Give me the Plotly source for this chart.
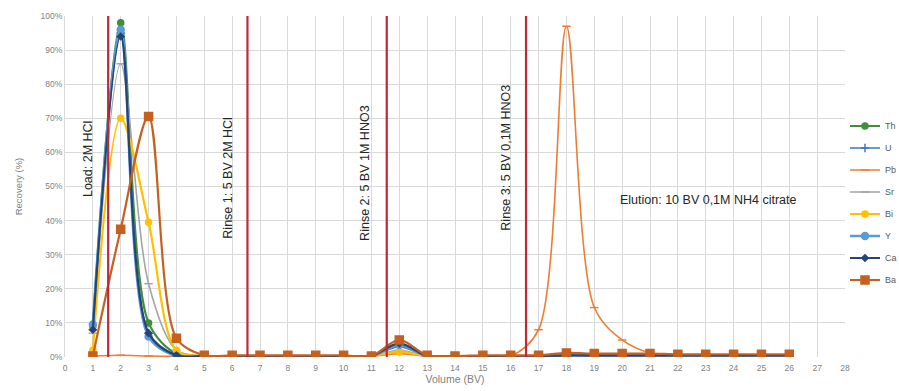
import plotly.graph_objects as go

# Bed volumes collected (BV)
volume = list(range(1, 27))

# Recovery per fraction (%), per element
th = [9, 98, 10, 1, 0.3, 0.3, 0.3, 0.3, 0.3, 0.3, 0.3, 4, 0.3, 0.3, 0.3, 0.3, 0.3, 0.5, 0.5, 0.5, 0.5, 0.5, 0.5, 0.5, 0.5, 0.5]
u = [8, 95, 7, 0.5, 0.3, 0.3, 0.3, 0.3, 0.3, 0.3, 0.3, 3, 0.3, 0.3, 0.3, 0.3, 0.3, 0.3, 0.3, 0.3, 0.3, 0.3, 0.3, 0.3, 0.3, 0.3]
pb = [0.3, 0.5, 0.3, 0.2, 0.2, 0.2, 0.2, 0.2, 0.2, 0.2, 0.2, 1, 0.2, 0.2, 0.2, 0.3, 8, 97, 14.5, 5, 1.2, 0.5, 0.3, 0.3, 0.3, 0.3]
sr = [7, 86, 21.5, 2, 0.3, 0.3, 0.3, 0.3, 0.3, 0.3, 0.3, 2, 0.3, 0.3, 0.3, 0.3, 0.3, 0.5, 0.5, 0.5, 0.5, 0.5, 0.5, 0.5, 0.5, 0.5]
bi = [2, 70, 39.5, 2, 0.3, 0.3, 0.3, 0.3, 0.3, 0.3, 0.3, 1.5, 0.3, 0.3, 0.3, 0.3, 0.3, 0.3, 0.3, 0.3, 0.3, 0.3, 0.3, 0.3, 0.3, 0.3]
y_el = [9.5, 96, 6, 0.3, 0.2, 0.2, 0.2, 0.2, 0.2, 0.2, 0.2, 3.5, 0.2, 0.2, 0.2, 0.2, 0.2, 0.2, 0.2, 0.2, 0.2, 0.2, 0.2, 0.2, 0.2, 0.2]
ca = [8, 94, 7, 0.5, 0.3, 0.3, 0.3, 0.3, 0.3, 0.3, 0.3, 4, 0.3, 0.3, 0.3, 0.3, 0.3, 0.5, 0.5, 0.5, 0.5, 0.5, 0.5, 0.5, 0.5, 0.5]
ba = [0.3, 37.5, 70.5, 5.5, 0.5, 0.5, 0.5, 0.5, 0.5, 0.5, 0.3, 5, 0.5, 0.3, 0.5, 0.5, 0.5, 1.2, 1, 1, 1, 0.8, 0.8, 0.8, 0.8, 0.8]

# Step boundaries (BV) and their labels
boundaries = [1.55, 6.55, 11.55, 16.55]
step_labels = ["Load: 2M HCl", "Rinse 1: 5 BV 2M HCl", "Rinse 2: 5 BV 1M HNO3", "Rinse 3: 5 BV 0,1M HNO3"]
step_label_x = [0.82, 5.84, 10.77, 15.8]
step_label_y = [0.58, 0.525, 0.54, 0.585]
elution_label = "Elution: 10 BV 0,1M NH4 citrate"

x_ticks = list(range(0, 29))
y_ticks = [i / 10 for i in range(0, 11)]

series = [
    ("Th", th, "#3f8f3a", "circle", 6, 2.2),
    ("U", u, "#4472C4", "cross-thin", 6, 1.6),
    ("Pb", pb, "#ED7D31", "line-ew", 6, 1.6),
    ("Sr", sr, "#A5A5A5", "line-ew", 6, 1.6),
    ("Bi", bi, "#FFC000", "circle", 6, 2.2),
    ("Y", y_el, "#5B9BD5", "circle", 7, 2.6),
    ("Ca", ca, "#264478", "diamond", 5, 2.2),
    ("Ba", ba, "#C5601F", "square", 8, 2.2),
]

fig = go.Figure()
for name, vals, color, sym, size, width in series:
    fig.add_trace(go.Scatter(
        x=volume, y=[v / 100 for v in vals], name=name, legendgroup=name,
        mode="lines+markers",
        line=dict(color=color, width=width, shape="spline", smoothing=0.9),
        marker=dict(symbol=sym, size=size, color=color,
                    line=dict(color=color, width=1.5)),
    ))

for b in boundaries:
    fig.add_shape(type="line", xref="x", yref="y", x0=b, x1=b, y0=0, y1=1,
                  line=dict(color="#C0283A", width=2.2), layer="above")

for txt, xx, yy in zip(step_labels, step_label_x, step_label_y):
    fig.add_annotation(x=xx, y=yy, xref="x", yref="y", text=txt, textangle=-90,
                       showarrow=False, font=dict(size=12.5, color="#262626"))
fig.add_annotation(x=23.1, y=0.46, xref="x", yref="y", text=elution_label,
                   showarrow=False, font=dict(size=12.5, color="#262626"))

fig.update_layout(
    width=899, height=391,
    margin=dict(l=65, r=54, t=16, b=34, autoexpand=False),
    paper_bgcolor="white", plot_bgcolor="white",
    font=dict(family="Liberation Sans, Arial, sans-serif", color="#595959"),
    legend=dict(x=1.0, y=0.72, xanchor="left", yanchor="top",
                font=dict(size=9, color="#595959"), tracegroupgap=3,
                itemwidth=30, bgcolor="rgba(0,0,0,0)"),
    showlegend=True,
)
fig.update_xaxes(range=[0, 28], tickvals=x_ticks, ticktext=[str(t) for t in x_ticks],
                 showgrid=True, gridcolor="#D9D9D9", gridwidth=1, zeroline=False,
                 showline=False, tickfont=dict(size=8.5, color="#7f7f7f"),
                 title=dict(text="Volume (BV)", font=dict(size=10.5, color="#7f7f7f"), standoff=4),
                 ticks="", ticklabelstandoff=4, fixedrange=True)
fig.update_yaxes(range=[0, 1], tickvals=y_ticks, tickformat=".0%",
                 showgrid=True, gridcolor="#D9D9D9", gridwidth=1, zeroline=False,
                 showline=True, linecolor="#D9D9D9",
                 tickfont=dict(size=8.5, color="#7f7f7f"),
                 title=dict(text="Recovery (%)", font=dict(size=9.5, color="#7f7f7f"), standoff=16),
                 ticks="", fixedrange=True)

fig.write_html("out.html")
